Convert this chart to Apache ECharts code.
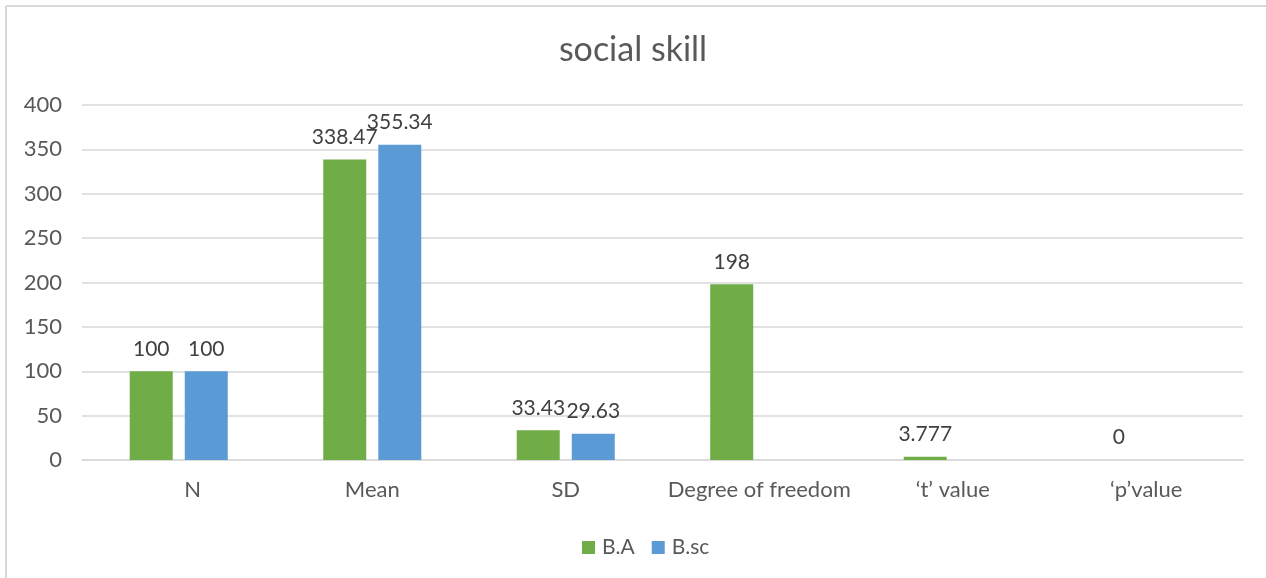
<!DOCTYPE html>
<html>
<head>
<meta charset="utf-8">
<script src="https://cdn.jsdelivr.net/npm/echarts@6/dist/echarts.min.js"></script>
<style>
html,body{margin:0;padding:0;background:#fff;}
#c{width:1266px;height:578px;}
</style>
</head>
<body>
<div id="c"></div>
<script>
const categories = ['N', 'Mean', 'SD', 'Degree of freedom', '\u2018t\u2019 value', '\u2018p\u2019value'];
const seriesNames = ['B.A', 'B.sc'];
const baValues = [100, 338.47, 33.43, 198, 3.777, 0];
const bscValues = [100, 355.34, 29.63, null, null, null];
const yTicks = { min: 0, max: 400, interval: 50 };

const FONT = 'Lato, "Liberation Sans", sans-serif';
const chart = echarts.init(document.getElementById('c'), null, { renderer: 'canvas' });
const catData = categories.map((c, i) => i === 0 ? { value: c, textStyle: { padding: [0, 0, 0, 28] } } : c);
chart.setOption({
  animation: false,
  backgroundColor: '#ffffff',
  textStyle: { fontFamily: FONT },
  title: {
    text: 'social skill',
    left: 'center',
    top: 28,
    textStyle: { fontFamily: FONT, fontSize: 34, fontWeight: 'normal', color: '#595959' }
  },
  graphic: [
    { type: 'line', shape: { x1: 6, y1: 6, x2: 1266, y2: 6 }, style: { stroke: '#d9d9d9', lineWidth: 2 } },
    { type: 'line', shape: { x1: 6, y1: 6, x2: 6, y2: 578 }, style: { stroke: '#d9d9d9', lineWidth: 2 } }
  ],
  legend: {
    data: seriesNames,
    top: 532,
    left: 577,
    icon: 'rect',
    itemWidth: 13,
    itemHeight: 13,
    itemGap: 17,
    textStyle: { fontFamily: FONT, fontSize: 21, color: '#595959', padding: [0, 0, 0, 2] }
  },
  grid: { left: 82, right: 23, top: 105, bottom: 118 },
  xAxis: {
    type: 'category',
    data: catData,
    axisLine: { lineStyle: { color: '#d9d9d9', width: 1.5 } },
    axisTick: { show: false },
    axisLabel: { fontFamily: FONT, fontSize: 22, color: '#595959', margin: 19, interval: 0 }
  },
  yAxis: {
    type: 'value',
    min: yTicks.min,
    max: yTicks.max,
    interval: yTicks.interval,
    axisLine: { show: false },
    axisTick: { show: false },
    splitLine: { lineStyle: { color: '#d9d9d9', width: 1.5 } },
    axisLabel: { fontFamily: FONT, fontSize: 22, color: '#595959', margin: 20 }
  },
  series: [
    {
      name: seriesNames[0],
      type: 'bar',
      data: baValues,
      barWidth: 43,
      barGap: '28%',
      itemStyle: { color: '#70ad47' },
      label: { show: true, position: 'top', distance: 12, fontFamily: FONT, fontSize: 21, color: '#404040' }
    },
    {
      name: seriesNames[1],
      type: 'bar',
      data: bscValues,
      barWidth: 43,
      barGap: '28%',
      itemStyle: { color: '#5b9bd5' },
      label: { show: true, position: 'top', distance: 12, fontFamily: FONT, fontSize: 21, color: '#404040' }
    }
  ]
});
</script>
</body>
</html>
